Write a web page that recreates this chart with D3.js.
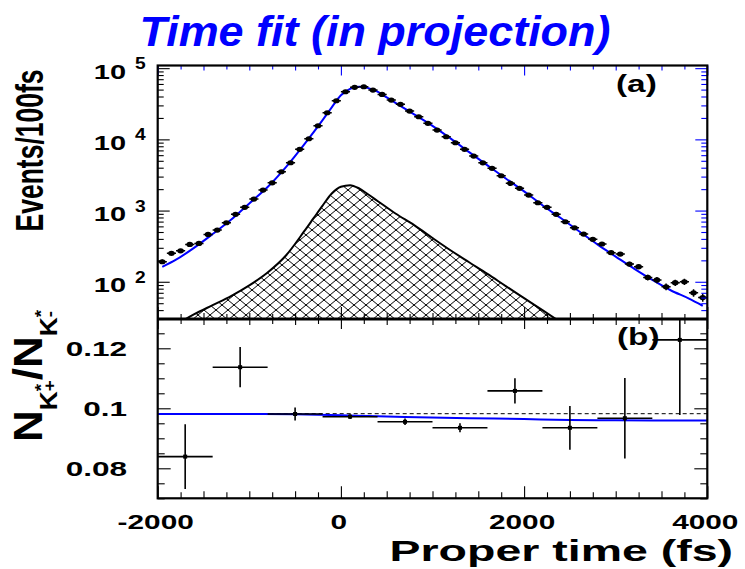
<!DOCTYPE html>
<html>
<head>
<meta charset="utf-8">
<script src="https://cdn.jsdelivr.net/npm/d3@7"></script>
<style>
  body { margin: 0; background: #fff; }
  text { font-family: "Liberation Sans", Arial, Helvetica, sans-serif; font-weight: bold; }
</style>
</head>
<body>
<svg id="chart" width="745" height="569"></svg>
<script>
// ---- Proper-time distribution (100 fs bins) ----
const binCenters = [-1950,-1850,-1750,-1650,-1550,-1450,-1350,-1250,-1150,-1050,
  -950,-850,-750,-650,-550,-450,-350,-250,-150,-50,
  50,150,250,350,450,550,650,750,850,950,
  1050,1150,1250,1350,1450,1550,1650,1750,1850,1950,
  2050,2150,2250,2350,2450,2550,2650,2750,2850,2950,
  3050,3150,3250,3350,3450,3550,3650,3750,3850,3950];
const binWidth = 100;
const eventCounts = [191,251,272,335,346,463,532,674,885,1110,
  1452,1942,2456,3507,4693,7244,10200,15520,23640,34860,
  46640,53750,54800,49230,42830,35640,31010,24970,20770,16780,
  13520,10880,8960,7240,5830,4690,3915,3083,2410,2050,
  1652,1288,1110,885,697,573,468,394,339,256,
  245,177,163,115,106,85,97,100,70,60];

// Total fit projection
const fitTimes  = [-1950,-1800,-1600,-1400,-1200,-1000,-800,-600,-400,-200,-100,0,100,200,300,400,500,600,800,
  1000,1200,1400,1600,1800,2000,2200,2400,2600,2800,3000,3200,3400,3600,3800,3950];
const fitCounts = [162,204,302,468,741,1259,2138,4074,8511,18620,28180,41690,51290,54950,52480,46770,38900,32360,22390,
  15490,10230,6607,4315,2818,1862,1189,785,513,335,226,153,106,76,58,46];

// Background component (hatched)
const bgTimes  = [-1800,-1600,-1400,-1200,-1000,-800,-600,-400,-300,-200,-100,0,100,200,300,400,600,800,1000,1200,1400,1600,1800,2000,2200,2400];
const bgCounts = [25,35,47,63,89,135,234,513,776,1175,1738,2163,2275,2042,1679,1365,902,624,412,275,188,129,87,59,40,27];

// ---- Ratio N(K*+)/N(K*-) in 600 fs bins ----
const ratioCenters = [-1700,-1100,-500,100,700,1300,1900,2500,3100,3700];
const ratioBinWidth = 600;
const ratioValues = [0.0839,0.1137,0.0981,0.0972,0.0955,0.0935,0.1058,0.0935,0.0967,0.1228];
const ratioErrors = [0.0108,0.0067,0.0022,0.0008,0.0011,0.0015,0.0042,0.0073,0.0134,0.0250];
const ratioFitTimes  = [-2000,-1000,-500,0,300,700,1400,2000,2500,3000,4000];
const ratioFitValues = [0.0981,0.0981,0.0980,0.0977,0.0974,0.0971,0.0967,0.0964,0.0961,0.0960,0.0959];
const ratioReference = 0.0982;

// ---- Axis ticks ----
const timeTickLabels = [-2000, 0, 2000, 4000];
const decadeExponents = [2, 3, 4, 5];
const ratioTickLabels = [0.08, 0.1, 0.12];

// ---- Layout ----
const svg = d3.select("#chart");
const L = 157.7, R = 707.3, T = 65.5, M = 319, B = 498.3;
const blue = "#0000ff";

const x = d3.scaleLinear().domain([-2000, 4000]).range([L, R]);
const yTop = d3.scaleLog().domain([30, 1.09e5]).range([M, T]);
const yBot = d3.scaleLinear().domain([0.07, 0.13]).range([B, B - 180]);

const defs = svg.append("defs");
defs.append("clipPath").attr("id", "clipTop").append("rect")
  .attr("x", L).attr("y", T).attr("width", R - L).attr("height", M - T);
defs.append("clipPath").attr("id", "clipBot").append("rect")
  .attr("x", L).attr("y", M).attr("width", R - L).attr("height", B - M);
const pat = defs.append("pattern").attr("id", "hatch")
  .attr("patternUnits", "userSpaceOnUse").attr("width", 12).attr("height", 10);
pat.append("path").attr("d", "M0,0L12,10M0,10L12,0M-1,9L1,11M11,-1L13,1M-1,1L1,-1M11,11L13,9")
  .attr("stroke", "#000").attr("stroke-width", 1).attr("fill", "none");

// text helper: glyphs drawn wider than tall
function label(g, str, px, py, size, sx, anchor, rot) {
  return g.append("text")
    .attr("transform", `translate(${px},${py}) scale(${sx},1)` + (rot ? ` rotate(${rot})` : ""))
    .attr("font-size", size).attr("text-anchor", anchor || "start").text(str);
}

// ---- Upper panel ----
const upper = svg.append("g").attr("clip-path", "url(#clipTop)");

const bgArea = d3.area().x((d, i) => x(bgTimes[i])).y0(M + 5).y1(d => yTop(d)).curve(d3.curveMonotoneX);
const bgLine = d3.line().x((d, i) => x(bgTimes[i])).y(d => yTop(d)).curve(d3.curveMonotoneX);
upper.append("path").datum(bgCounts).attr("d", bgArea).attr("fill", "url(#hatch)");
upper.append("path").datum(bgCounts).attr("d", bgLine).attr("fill", "none").attr("stroke", "#000").attr("stroke-width", 2);

const fitLine = d3.line().x((d, i) => x(fitTimes[i])).y(d => yTop(d)).curve(d3.curveMonotoneX);
upper.append("path").datum(fitCounts).attr("d", fitLine).attr("fill", "none").attr("stroke", blue).attr("stroke-width", 2);

const pts = upper.append("g").attr("stroke", "#000").attr("stroke-width", 1.5);
binCenters.forEach((t, i) => {
  const n = eventCounts[i], e = Math.sqrt(n);
  pts.append("line").attr("x1", x(t - binWidth / 2)).attr("x2", x(t + binWidth / 2)).attr("y1", yTop(n)).attr("y2", yTop(n));
  pts.append("line").attr("x1", x(t)).attr("x2", x(t)).attr("y1", yTop(n - e)).attr("y2", yTop(n + e));
  pts.append("ellipse").attr("cx", x(t)).attr("cy", yTop(n)).attr("rx", 3.3).attr("ry", 2.6).attr("fill", "#000").attr("stroke", "none");
});

// ---- Lower panel ----
const lower = svg.append("g").attr("clip-path", "url(#clipBot)");
lower.append("line").attr("x1", L).attr("x2", R).attr("y1", yBot(ratioReference)).attr("y2", yBot(ratioReference))
  .attr("stroke", "#000").attr("stroke-width", 1).attr("stroke-dasharray", "4,3");
const ratioLine = d3.line().x((d, i) => x(ratioFitTimes[i])).y(d => yBot(d)).curve(d3.curveMonotoneX);
lower.append("path").datum(ratioFitValues).attr("d", ratioLine).attr("fill", "none").attr("stroke", blue).attr("stroke-width", 2);

const rp = lower.append("g").attr("stroke", "#000").attr("stroke-width", 1.6);
ratioCenters.forEach((t, i) => {
  const v = ratioValues[i], e = ratioErrors[i];
  rp.append("line").attr("x1", x(t - ratioBinWidth / 2)).attr("x2", x(t + ratioBinWidth / 2)).attr("y1", yBot(v)).attr("y2", yBot(v));
  rp.append("line").attr("x1", x(t)).attr("x2", x(t)).attr("y1", yBot(v - e)).attr("y2", yBot(v + e));
  rp.append("rect").attr("x", x(t) - 2).attr("y", yBot(v) - 2).attr("width", 4).attr("height", 4).attr("fill", "#000").attr("stroke", "none");
});

// ---- Ticks (inward) ----
function axisTicks(axis, tx, ty, color) {
  svg.append("g").attr("transform", `translate(${tx},${ty})`)
    .call(axis.tickFormat(""))
    .call(g => g.select(".domain").remove())
    .call(g => g.selectAll("line").attr("stroke", color).attr("stroke-width", 1.1));
}
const tMajor = timeTickLabels;
const tMinor = d3.range(-2000, 4001, 250).filter(v => v % 2000 !== 0);
const tMid = tMinor.filter(v => v % 500 === 0);
const tSmall = tMinor.filter(v => v % 500 !== 0);
const logMajor = decadeExponents.map(k => Math.pow(10, k));
const logMinor = [];
[1, 2, 3, 4].forEach(k => d3.range(2, 10).forEach(m => {
  const v = m * Math.pow(10, k);
  if (v >= 30 && v <= 1.09e5) logMinor.push(v);
}));
const rMajor = ratioTickLabels;
const rMinor = d3.range(0.07, 0.1301, 0.005).filter(v => !rMajor.some(m => Math.abs(m - v) < 1e-6));

// upper panel
axisTicks(d3.axisLeft(yTop).tickValues(logMajor).tickSize(-12), L, 0, "#000");
axisTicks(d3.axisLeft(yTop).tickValues(logMinor).tickSize(-6), L, 0, "#000");
axisTicks(d3.axisRight(yTop).tickValues(logMajor).tickSize(-12), R, 0, blue);
axisTicks(d3.axisRight(yTop).tickValues(logMinor).tickSize(-6), R, 0, blue);
axisTicks(d3.axisTop(x).tickValues(tMajor).tickSize(-10), 0, T, blue);
axisTicks(d3.axisTop(x).tickValues(tMid).tickSize(-5), 0, T, blue);
axisTicks(d3.axisTop(x).tickValues(tSmall).tickSize(-4), 0, T, blue);
axisTicks(d3.axisBottom(x).tickValues(tMajor).tickSize(-12), 0, M, "#000");
axisTicks(d3.axisBottom(x).tickValues(tMid).tickSize(-6), 0, M, "#000");
axisTicks(d3.axisBottom(x).tickValues(tSmall).tickSize(-5), 0, M, "#000");
// lower panel
axisTicks(d3.axisLeft(yBot).tickValues(rMajor).tickSize(-13), L, 0, "#000");
axisTicks(d3.axisLeft(yBot).tickValues(rMinor).tickSize(-7), L, 0, "#000");
axisTicks(d3.axisRight(yBot).tickValues(rMajor).tickSize(-13), R, 0, "#000");
axisTicks(d3.axisRight(yBot).tickValues(rMinor).tickSize(-7), R, 0, "#000");
axisTicks(d3.axisTop(x).tickValues(tMajor).tickSize(-10), 0, M, "#000");
axisTicks(d3.axisTop(x).tickValues(tMid).tickSize(-6), 0, M, "#000");
axisTicks(d3.axisTop(x).tickValues(tSmall).tickSize(-5), 0, M, "#000");
axisTicks(d3.axisBottom(x).tickValues(tMajor).tickSize(-12), 0, B, "#000");
axisTicks(d3.axisBottom(x).tickValues(tMid).tickSize(-7), 0, B, "#000");
axisTicks(d3.axisBottom(x).tickValues(tSmall).tickSize(-6), 0, B, "#000");

// ---- Frames ----
svg.append("rect").attr("x", L).attr("y", T).attr("width", R - L).attr("height", B - T)
  .attr("fill", "none").attr("stroke", "#000").attr("stroke-width", 2.2);
svg.append("line").attr("x1", L).attr("x2", R).attr("y1", M).attr("y2", M)
  .attr("stroke", "#000").attr("stroke-width", 3);

// ---- Labels ----
const txt = svg.append("g");
const title = label(txt, "Time fit (in projection)", 375, 46, 42, 1.07, "middle");
title.attr("fill", blue).attr("font-style", "italic");

// log axis labels 10^k
decadeExponents.forEach(k => {
  const py = yTop(Math.pow(10, k));
  label(txt, "10", 126, py + 10.5, 20, 1.45, "end");
  label(txt, String(k), 135, py + 1, 16, 1.2, "start");
});
// ratio axis labels
ratioTickLabels.forEach(v => {
  label(txt, d3.format("~g")(v), 127, yBot(v) + 7.5, 21, 1.5, "end");
});
// time axis labels
timeTickLabels.forEach(v => {
  label(txt, String(v), x(v) - 2, 529, 21, 1.42, "middle");
});
label(txt, "Proper time (fs)", 733, 561, 30, 1.55, "end");
label(txt, "Events/100fs", 43, 150.5, 26.5, 1.47, "middle", -90);
label(txt, "(a)", 616, 92, 23, 1.45, "start");
label(txt, "(b)", 617, 345, 23, 1.45, "start");

// ratio axis title N_{K*+}/N_{K*-}
const nl = txt.append("text").attr("transform", "translate(42,442) scale(1,1.1) rotate(-90)").attr("font-size", 40);
nl.append("tspan").text("N");
nl.append("tspan").attr("font-size", 24).attr("dy", 15).text("K");
nl.append("tspan").attr("font-size", 17).attr("dy", -10).text("*");
nl.append("tspan").attr("font-size", 17).attr("dx", -6.6).attr("dy", 8).text("+");
nl.append("tspan").attr("font-size", 40).attr("dy", -13).text("/N");
nl.append("tspan").attr("font-size", 24).attr("dy", 15).text("K");
nl.append("tspan").attr("font-size", 17).attr("dy", -10).text("*");
nl.append("tspan").attr("font-size", 17).attr("dx", -6.6).attr("dy", 8).text("-");
</script>
</body>
</html>
